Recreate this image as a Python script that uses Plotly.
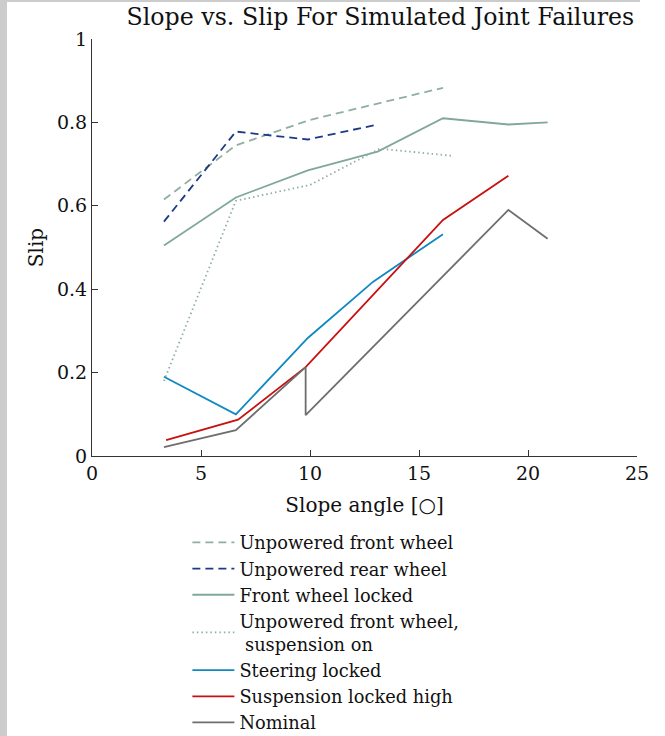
import plotly.graph_objects as go

# ---- data ----
x_unp_front = [3.3, 6.6, 10.0, 13.1, 16.1]
y_unp_front = [0.615, 0.745, 0.806, 0.845, 0.883]

x_unp_rear = [3.3, 6.6, 9.9, 13.1]
y_unp_rear = [0.562, 0.778, 0.759, 0.795]

x_front_locked = [3.3, 6.6, 9.9, 13.1, 16.1, 19.1, 20.9]
y_front_locked = [0.505, 0.62, 0.685, 0.73, 0.81, 0.795, 0.80]

x_unp_front_susp = [3.3, 6.6, 10.0, 13.2, 16.5]
y_unp_front_susp = [0.18, 0.612, 0.65, 0.737, 0.72]

x_steer = [3.3, 6.6, 9.9, 12.9, 16.1]
y_steer = [0.19, 0.10, 0.283, 0.418, 0.532]

x_susp_high = [3.4, 6.7, 9.8, 16.1, 19.1]
y_susp_high = [0.038, 0.087, 0.213, 0.566, 0.672]

x_nominal = [3.3, 6.6, 9.8, 9.8, 19.1, 20.9]
y_nominal = [0.021, 0.062, 0.213, 0.098, 0.59, 0.521]

names = ["Unpowered front wheel", "Unpowered rear wheel", "Front wheel locked",
         "Unpowered front wheel,<br> suspension on", "Steering locked",
         "Suspension locked high", "Nominal"]

x_ticks = [0, 5, 10, 15, 20, 25]
y_ticks = [0, 0.2, 0.4, 0.6, 0.8, 1]
y_ticklabels = ["0", "0.2", "0.4", "0.6", "0.8", "1"]

FONT = "DejaVu Serif"

series = [
    (x_unp_front, y_unp_front, "#8fb0a0", "8px,5px"),
    (x_unp_rear, y_unp_rear, "#1c3a85", "8px,5px"),
    (x_front_locked, y_front_locked, "#80a898", "solid"),
    (x_unp_front_susp, y_unp_front_susp, "#8fb0a0", "1.5px,3px"),
    (x_steer, y_steer, "#1088c2", "solid"),
    (x_susp_high, y_susp_high, "#c81010", "solid"),
    (x_nominal, y_nominal, "#6e6e6e", "solid"),
]

fig = go.Figure()
for (xs, ys, col, dash), nm in zip(series, names):
    fig.add_trace(go.Scatter(x=xs, y=ys, mode="lines", name=nm,
                             line=dict(color=col, width=1.8, dash=dash)))

fig.update_layout(
    width=665, height=736,
    margin=dict(l=92, r=28, t=39, b=280, autoexpand=False),
    paper_bgcolor="white", plot_bgcolor="white",
    font=dict(family=FONT, color="#111111"),
    title=dict(text="Slope vs. Slip For Simulated Joint Failures",
               x=0.572, xanchor="center", yref="container", y=1 - 17/736, yanchor="middle",
               font=dict(size=23.7, family=FONT, color="#111111")),
    showlegend=True,
    legend=dict(x=0.175, y=-0.164, xanchor="left", yanchor="top",
                font=dict(size=17.8, family=FONT, color="#111111"),
                itemwidth=42, tracegroupgap=0, bgcolor="rgba(0,0,0,0)"),
    xaxis=dict(range=[0, 25], tickvals=x_ticks, ticks="inside", ticklen=6,
               showline=True, linecolor="#333333", linewidth=1, automargin=False,
               tickcolor="#333333", showgrid=False, zeroline=False,
               tickfont=dict(size=19, family=FONT),
               title=dict(text="Slope angle [○]", font=dict(size=20, family=FONT), standoff=15)),
    yaxis=dict(range=[0, 1], tickvals=y_ticks, ticktext=y_ticklabels,
               ticks="inside", ticklen=6, automargin=False,
               showline=True, linecolor="#333333", linewidth=1,
               tickcolor="#333333", showgrid=False, zeroline=False,
               tickfont=dict(size=19, family=FONT),
               title=dict(text="Slip", font=dict(size=20, family=FONT), standoff=7)),
)

# grey frame remnants at left edge and top
fig.add_shape(type="rect", xref="paper", yref="paper",
              x0=-92/545, x1=-85/545, y0=-280/417, y1=39/417 + 1,
              fillcolor="#cccccc", line=dict(width=0), layer="below")
fig.add_shape(type="rect", xref="paper", yref="paper",
              x0=-85/545, x1=1 + 3/545, y0=1 + 37/417, y1=1 + 39/417,
              fillcolor="#cccccc", line=dict(width=0), layer="below")

fig.write_html("out.html", config={"displayModeBar": False},
               post_script="document.body.style.margin='0';")
